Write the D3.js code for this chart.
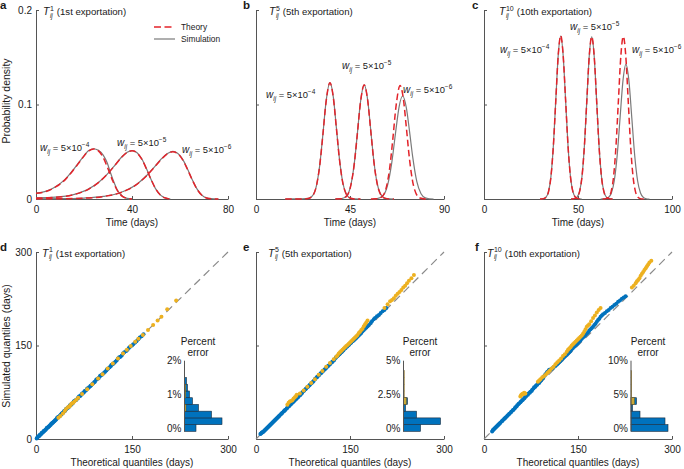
<!DOCTYPE html>
<html><head><meta charset="utf-8">
<script src="https://cdn.jsdelivr.net/npm/d3@7"></script>
<style>
body{margin:0;background:#fff}
svg text{font-family:"Liberation Sans",Arial,Helvetica,sans-serif;fill:#1a1a1a}
</style>
</head><body>
<svg id="c" width="684" height="469"></svg>
<script>
// ---------------- DATA ----------------
const densTicks = [0, 0.1, 0.2];
const densTickLabels = ["0", "0.1", "0.2"];
const timeTicksA = [0, 40, 80];
const timeTicksB = [0, 45, 90];
const timeTicksC = [0, 50, 100];
const quantTicks = [0, 150, 300];
const weightLabels = ["\u22124", "\u22125", "\u22126"];
const exportNums = ["1", "5", "10"];
const exportNames = ["(1st exportation)", "(5th exportation)", "(10th exportation)"];

// panel a: [time, density]
const theoryA1 = [[0,0.006],[4,0.0078],[8,0.0125],[12,0.020],[16,0.032],[19,0.042],[22,0.051],[24,0.053],[26,0.051],[28,0.044],[30,0.032],[32,0.019],[34,0.0085],[36,0.0028],[38,0.0006],[40,0]];
const simA1    = [[0,0.0062],[4,0.008],[8,0.0128],[12,0.0205],[16,0.0325],[19,0.0425],[22,0.0512],[24,0.0532],[26,0.0515],[28,0.0465],[29.7,0.038],[31,0.028],[32,0.021],[34,0.009],[36,0.003],[38,0.0007],[40,0]];
const theoryA2 = [[0,0.001],[8,0.0018],[16,0.0048],[22,0.0105],[26,0.0173],[30,0.027],[33,0.036],[36,0.045],[38,0.0493],[40,0.051],[42,0.049],[44,0.0424],[46,0.032],[48,0.0203],[50,0.0101],[52,0.0037],[54,0.001],[56,0]];
const simA2    = [[0,0.0012],[8,0.0019],[16,0.0049],[22,0.0107],[26,0.0175],[30,0.0272],[33,0.0362],[36,0.0452],[38,0.0495],[40,0.0512],[42,0.0492],[44,0.0428],[46,0.0322],[48,0.0205],[50,0.0102],[52,0.0038],[54,0.001],[56,0]];
const theoryA3 = [[0,0.0002],[10,0.0003],[20,0.0009],[28,0.0026],[34,0.0057],[38,0.0096],[42,0.0155],[46,0.0244],[49,0.0327],[52,0.0415],[55,0.0483],[57,0.050],[59,0.048],[61,0.0419],[63,0.032],[65,0.0208],[67,0.0108],[69,0.0042],[71,0.001],[73,0.0002],[76,0]];
const simA3    = [[0,0.0002],[10,0.0003],[20,0.001],[28,0.0027],[34,0.0058],[38,0.0098],[42,0.0157],[46,0.0246],[49,0.033],[52,0.0418],[55,0.0485],[57,0.0503],[59,0.0485],[61,0.0425],[63,0.0326],[65,0.021],[67,0.011],[69,0.0044],[71,0.0012],[73,0.0003],[76,0]];

// panel b
const theoryB1 = [[14,0],[22,0.0001],[25,0.0005],[27,0.0031],[29,0.0146],[30.5,0.0353],[32,0.0675],[33.5,0.102],[35.4,0.123],[37,0.1077],[38.5,0.0746],[40,0.041],[41.5,0.0177],[43,0.0061],[45,0.001],[47,0.0001],[50,0]];
const simB1    = [[14,0],[22,0.0001],[25,0.0006],[27,0.0033],[29,0.0148],[30.5,0.0356],[32,0.0678],[33.5,0.1022],[35.4,0.1232],[37,0.108],[38.5,0.075],[40,0.0414],[41.5,0.018],[43,0.0063],[45,0.0011],[47,0.0001],[50,0]];
const theoryB2 = [[38,0.0001],[41,0.0003],[43.5,0.0033],[45.5,0.0154],[47,0.0363],[48.5,0.0684],[50,0.102],[51.8,0.1206],[53.5,0.1038],[55,0.0708],[56.5,0.0382],[58,0.0163],[59.5,0.0055],[61.5,0.0009],[64,0.0001],[66,0]];
const simB2    = [[38,0.0001],[41,0.0004],[43.5,0.0035],[45.5,0.0157],[47,0.0366],[48.5,0.0687],[50,0.1022],[51.8,0.1208],[53.5,0.1041],[55,0.0712],[56.5,0.0386],[58,0.0166],[59.5,0.0057],[61.5,0.001],[64,0.0001],[66,0]];
const theoryB3 = [[55,0.0001],[58,0.0002],[60.5,0.0028],[62.5,0.0133],[64,0.0327],[65.5,0.0634],[67,0.0975],[69,0.120],[70.5,0.1068],[72,0.0751],[73.5,0.0419],[75,0.0185],[76.5,0.0064],[78.5,0.0011],[81,0.0001],[83,0]];
const simB3    = [[56,0],[58,0.0003],[61,0.0041],[63,0.0147],[65,0.0385],[67,0.0734],[68.5,0.0976],[70.2,0.109],[72,0.0962],[73.5,0.0716],[75,0.0448],[77,0.0183],[79,0.0055],[81,0.0012],[83,0.0002],[85,0]];

// panel c
const theoryC1 = [[29.8,0],[31.7,0.0004],[33,0.0019],[34.3,0.0076],[35.6,0.0234],[36.9,0.0561],[38.2,0.1048],[39.5,0.1525],[40.8,0.1728],[42.1,0.1525],[43.4,0.1048],[44.7,0.0561],[46,0.0234],[47.3,0.0076],[48.6,0.0019],[49.9,0.0004],[52,0]];
const simC1    = [[29.8,0],[31.7,0.0005],[33,0.002],[34.3,0.0078],[35.6,0.0237],[36.9,0.0565],[38.2,0.1052],[39.5,0.1528],[40.8,0.1725],[42.1,0.1522],[43.4,0.1046],[44.7,0.056],[46,0.0236],[47.3,0.0078],[48.6,0.002],[49.9,0.0005],[52,0]];
const theoryC2 = [[46.3,0],[48.2,0.0004],[49.5,0.0019],[50.8,0.0075],[52.1,0.0232],[53.4,0.0558],[54.7,0.1042],[56,0.1516],[57.3,0.1718],[58.6,0.1516],[59.9,0.1042],[61.2,0.0558],[62.5,0.0232],[63.8,0.0075],[65.1,0.0019],[66.4,0.0004],[68.5,0]];
const simC2    = [[46.3,0],[48.2,0.0005],[49.5,0.002],[50.8,0.0077],[52.1,0.0235],[53.4,0.0562],[54.7,0.1046],[56,0.1519],[57.3,0.1716],[58.6,0.1514],[59.9,0.1045],[61.2,0.0562],[62.5,0.0236],[63.8,0.0078],[65.1,0.002],[66.4,0.0005],[68.5,0]];
const theoryC3 = [[63.1,0],[65,0.0004],[66.3,0.0019],[67.6,0.0076],[68.9,0.0233],[70.2,0.0558],[71.5,0.1043],[72.8,0.1518],[74.1,0.172],[75.4,0.1518],[76.7,0.1043],[78,0.0558],[79.3,0.0233],[80.6,0.0076],[81.9,0.0019],[83.2,0.0004],[85.3,0]];
const simC3    = [[62,0],[64.65,0.0003],[66.2,0.0016],[67.75,0.0063],[69.3,0.0193],[70.85,0.0463],[72.4,0.0864],[73.95,0.1258],[75.5,0.1425],[77.05,0.1258],[78.6,0.0864],[80.15,0.0463],[81.7,0.0193],[83.25,0.0063],[84.8,0.0016],[86.35,0.0003],[88,0]];

// QQ data: [theoretical, simulated]
const qqBlueD = [[1,1],[2,2],[3,4],[4,4],[5,5],[6,7],[7,7],[8,8],[9,10],[10,10],[11,11],[12,13],[13,13],[14,14],[15,15],[16,16],[17,18],[18,18],[19,19],[20,20],[21,21],[22,22],[23,23],[24,25],[25,25],[26,26],[27,27],[28,28],[29,29],[30,30],[31,31],[32,32],[33,34],[34,35],[35,35],[36,36],[37,37],[38,38],[39,39],[40,41],[41,41],[42,42],[43,43],[44,45],[45,45],[46,46],[47,48],[48,49],[50,50],[51,51],[52,52],[53,54],[55,55],[56,56],[58,58],[59,60],[60,61],[62,62],[63,63],[65,65],[66,66],[67,68],[69,69],[70,70],[72,73],[73,73],[75,75],[76,77],[78,78],[80,81],[81,81],[83,83],[85,85],[86,86],[88,88],[89,89],[91,91],[92,92],[94,95],[95,96],[97,97],[98,98],[100,101],[101,102],[103,103],[104,104],[106,106],[108,108],[110,110],[111,112],[113,113],[115,115],[117,117],[118,119],[120,120],[122,122],[124,124],[126,126],[128,129],[130,131],[132,132],[134,134],[136,137],[138,139],[141,141],[143,143],[145,146],[147,148],[150,150],[152,152],[155,155],[157,157],[160,160],[162,163],[165,165],[168,168]];
const qqYellowD = [[35,34],[38,37],[42,41],[45,45],[47,48],[50,51],[52,52],[53,53],[55,56],[56,57],[58,58],[60,60],[63,63],[66,66],[72,72],[80,80],[88,88],[97,97],[104,104],[112,113],[120,121],[128,129],[136,137],[142,143],[148,149],[155,156],[160,161],[167,167],[175,175],[183,183],[190,190],[196,196],[205,208],[219,222]];
const qqBlueE = [[7,8],[8,9],[9,10],[10,11],[11,11],[12,12],[13,13],[14,14],[15,15],[16,16],[17,17],[18,18],[19,19],[20,20],[21,21],[22,22],[23,23],[24,24],[25,25],[26,26],[27,27],[28,28],[29,29],[30,30],[31,31],[32,32],[33,33],[34,34],[35,35],[36,36],[37,37],[38,38],[40,40],[41,41],[42,42],[44,44],[45,45],[46,46],[47,47],[49,49],[50,50],[52,52],[53,53],[55,55],[56,56],[58,58],[59,59],[61,61],[62,62],[64,64],[65,65],[67,67],[68,68],[70,70],[71,71],[73,73],[74,75],[76,77],[77,78],[79,80],[80,81],[82,83],[83,84],[85,86],[86,87],[88,89],[89,90],[91,92],[92,93],[94,96],[95,97],[97,99],[98,100],[100,102],[101,103],[103,105],[104,106],[106,108],[107,109],[109,111],[110,112],[112,114],[113,115],[115,117],[116,118],[118,120],[119,121],[121,123],[122,124],[124,126],[125,127],[127,130],[128,131],[130,133],[131,134],[133,136],[134,137],[136,139],[137,140],[139,142],[140,143],[142,145],[143,146],[145,148],[146,149],[148,151],[149,152],[151,154],[152,155],[154,157],[156,158],[158,160],[160,162],[162,164],[164,166],[166,168],[168,170],[170,173],[172,175],[174,177],[176,179],[178,181],[180,183],[183,186],[185,189],[188,192],[190,194],[193,197],[196,199],[199,202],[202,205],[205,207],[208,210]];
const qqYellowE = [[50,55],[52,58],[54,60],[56,61],[58,62],[60,65],[62,67],[64,69],[65,71],[70,73],[76,78],[82,84],[88,90],[94,96],[100,103],[106,109],[112,116],[118,122],[124,128],[128,132],[130,134],[132,137],[134,139],[136,141],[138,143],[140,145],[142,147],[144,149],[146,151],[148,153],[150,155],[152,157],[154,159],[156,161],[158,163],[160,165],[162,167],[164,170],[166,172],[168,175],[170,177],[172,181],[174,184],[176,187],[178,190],[205,210],[210,216],[214,221],[217,223],[220,226],[223,230],[226,233],[229,236],[232,239],[235,243],[238,246],[241,250],[244,254],[248,258],[252,263]];
const qqBlueF = [[13,12],[14,14],[15,15],[16,16],[17,17],[18,18],[19,19],[20,20],[21,21],[22,22],[23,23],[24,24],[25,25],[26,26],[28,28],[29,29],[30,30],[32,32],[33,33],[34,34],[35,35],[37,37],[38,38],[40,40],[41,41],[43,43],[44,44],[46,46],[47,47],[49,49],[50,51],[52,52],[53,54],[55,56],[56,57],[58,59],[59,60],[61,62],[62,63],[64,65],[65,66],[67,68],[68,70],[70,71],[71,73],[73,74],[74,76],[76,77],[77,79],[79,81],[80,83],[82,84],[83,86],[85,87],[86,89],[88,90],[89,92],[91,94],[92,96],[94,98],[95,100],[97,102],[98,104],[100,106],[101,108],[103,109],[104,111],[106,111],[107,112],[109,113],[110,114],[112,116],[114,117],[116,119],[118,121],[120,123],[122,125],[124,127],[126,129],[128,131],[130,133],[132,135],[134,137],[136,139],[138,141],[140,144],[142,146],[144,148],[146,150],[148,152],[150,154],[152,156],[154,158],[156,161],[158,163],[160,165],[162,167],[164,169],[166,171],[168,174],[170,176],[172,178],[174,180],[176,183],[178,185],[180,188],[182,191],[184,193],[186,196],[188,198],[190,200],[193,202],[196,205],[199,207],[202,210],[205,212],[208,215],[211,217],[214,220],[217,222],[220,225],[223,227],[226,229]];
const qqYellowF = [[58,68],[59,70],[60,71],[61,72],[62,72],[63,73],[64,74],[65,73],[66,73],[86,92],[88,94],[90,96],[93,99],[96,101],[99,104],[102,107],[105,110],[108,113],[111,116],[114,120],[117,123],[120,126],[123,129],[126,133],[129,136],[132,140],[134,143],[136,145],[138,147],[140,150],[142,152],[144,154],[146,156],[148,158],[150,160],[152,162],[154,164],[156,166],[158,169],[160,172],[162,176],[164,180],[166,182],[168,184],[171,189],[174,194],[177,198],[180,203],[183,207],[186,210],[236,243],[239,246],[242,250],[244,253],[246,255],[248,258],[250,262],[252,265],[254,268],[256,271],[258,274],[260,277],[262,280],[264,283],[267,286]];

// percent error histograms (bin centres in %, bar lengths)
const pctBinsD = [0, 0.2, 0.4, 0.6, 0.8, 1.0, 1.2, 1.4];
const pctBlueD = [11.5, 37.5, 27, 14, 8, 5, 3, 2];
const pctYellowD = [0, 0, 0, 1.5, 0, 1.2, 1.2, 0];
const pctTicksD = [0, 1, 2];
const pctLabelsD = ["0%", "1%", "2%"];
const pctBinsE = [0, 0.5, 1.0, 1.5, 2.0, 2.5, 3.0, 3.5, 4.0, 4.5];
const pctBlueE = [17, 37, 13, 2, 4, 0, 0, 0, 0, 0];
const pctYellowE = [0, 0, 0, 0, 3, 0.8, 0.8, 0.8, 0.8, 0];
const pctTicksE = [0, 2.5, 5];
const pctLabelsE = ["0%", "2.5%", "5%"];
const pctBinsF = [0, 1, 2, 3, 4, 5, 6, 7, 8, 9];
const pctBlueF = [37, 34, 9, 1.5, 5.5, 0, 0, 0, 0, 0];
const pctYellowF = [0, 0, 0, 0, 3.5, 0.8, 0.8, 0.8, 0.8, 0];
const pctTicksF = [0, 5, 10];
const pctLabelsF = ["0%", "5%", "10%"];

// ---------------- DRAWING ----------------
const svg = d3.select("#c");
const RED = "#e3232a", GRAY = "#7a7a7a", BLUE = "#0072BD", YEL = "#EDB120", AX = "#555";

function styleAxis(sel){
  sel.selectAll(".domain").attr("stroke", AX).attr("stroke-width", 1);
  sel.selectAll(".tick line").attr("stroke", AX);
  sel.selectAll(".tick text").attr("font-size", 10).attr("fill", "#1a1a1a")
     .attr("font-family", '"Liberation Sans",Arial,sans-serif');
}

function axes(xs, ys, xt, yt, ylabels){
  const gx = svg.append("g").attr("transform", `translate(0,${ys.range()[0]})`)
    .call(d3.axisBottom(xs).tickValues(xt).tickSize(-3).tickSizeOuter(0).tickPadding(7).tickFormat(d3.format("d")));
  styleAxis(gx);
  const gy = svg.append("g").attr("transform", `translate(${xs.range()[0]},0)`)
    .call(d3.axisLeft(ys).tickValues(yt).tickSize(-3).tickSizeOuter(0).tickPadding(4)
      .tickFormat((d,i) => ylabels ? ylabels[i] : ""));
  styleAxis(gy);
}

function richLabel(x, y, parts, size){
  const t = svg.append("text").attr("x", x).attr("y", y).attr("font-size", size);
  let prevW = 0;
  parts.forEach(p => {
    const s = t.append("tspan").text(p.t).attr("y", y + (p.dy || 0))
      .attr("font-size", p.fs || size);
    if (p.it) s.attr("font-style", "italic");
    if (p.back) s.attr("dx", -prevW);
    else if (p.dx) s.attr("dx", p.dx);
    prevW = s.node().getComputedTextLength();
  });
  return t;
}

function wLabel(x, y, exp){
  richLabel(x, y, [{t:"w", it:true, fs:10}, {t:"ij", it:true, fs:6.3, dy:2.5}, {t:" = 5\u00d710"}, {t:exp, fs:6.5, dy:-4}], 9.4);
}
function titleLabel(x, y, n, name){
  richLabel(x, y, [{t:"T", it:true, fs:10.5}, {t:"ij", it:true, fs:6.5, dy:2.5, dx:0.5}, {t:n, fs:7, dy:-4.5, back:true}, {t:"(" + name.slice(1), dx:3}], 9.6);
}

const colsX = [[36, 228], [256, 444], [484, 672]];
const topY = [199, 10], botY = [439, 252];
const timeDomains = [[0,80],[0,90],[0,100]];
const timeTicks = [timeTicksA, timeTicksB, timeTicksC];
const theories = [[theoryA1,theoryA2,theoryA3],[theoryB1,theoryB2,theoryB3],[theoryC1,theoryC2,theoryC3]];
const sims = [[simA1,simA2,simA3],[simB1,simB2,simB3],[simC1,simC2,simC3]];
const wPos = [[[40,151],[117,146],[182,153]],[[266,98],[342,69],[403,93]],[[500,53],[570,30],[632,53]]];
const letters = ["a","b","c","d","e","f"];
const letterX = [0, 243, 472, 0, 243, 475];
const titleXTop = [43, 269, 499], titleXBot = [42, 268, 487];

for (let p = 0; p < 3; p++){
  const xs = d3.scaleLinear().domain(timeDomains[p]).range(colsX[p]);
  const ys = d3.scaleLinear().domain([0, 0.2]).range(topY);
  axes(xs, ys, timeTicks[p], densTicks, p === 0 ? densTickLabels : null);
  const line = d3.line().x(d => xs(d[0])).y(d => ys(d[1])).curve(d3.curveMonotoneX);
  sims[p].forEach(s => svg.append("path").attr("d", line(s)).attr("fill","none")
      .attr("stroke", GRAY).attr("stroke-width", 1.2));
  theories[p].forEach(s => svg.append("path").attr("d", line(s)).attr("fill","none")
      .attr("stroke", RED).attr("stroke-width", 1.5).attr("stroke-dasharray", "6.5,3.5"));
  wPos[p].forEach((pos, i) => wLabel(pos[0], pos[1], weightLabels[i]));
  titleLabel(titleXTop[p], 15, exportNums[p], exportNames[p]);
  svg.append("text").attr("x", (colsX[p][0]+colsX[p][1])/2).attr("y", 226)
    .attr("text-anchor","middle").attr("font-size",10).text("Time (days)");
}

// legend panel a
svg.append("line").attr("x1",154).attr("x2",175).attr("y1",27).attr("y2",27)
  .attr("stroke",RED).attr("stroke-width",1.5).attr("stroke-dasharray","7,3.5");
svg.append("line").attr("x1",154).attr("x2",175).attr("y1",39).attr("y2",39)
  .attr("stroke",GRAY).attr("stroke-width",1.2);
svg.append("text").attr("x",181).attr("y",30).attr("font-size",8.4).text("Theory");
svg.append("text").attr("x",181).attr("y",42).attr("font-size",8.4).text("Simulation");

// bottom row
const qqBlue = [qqBlueD, qqBlueE, qqBlueF], qqYellow = [qqYellowD, qqYellowE, qqYellowF];
const pctBins = [pctBinsD, pctBinsE, pctBinsF], pctBlue = [pctBlueD, pctBlueE, pctBlueF];
const pctYellow = [pctYellowD, pctYellowE, pctYellowF];
const pctTicks = [pctTicksD, pctTicksE, pctTicksF], pctLabels = [pctLabelsD, pctLabelsE, pctLabelsF];
const insetAxisX = [184.5, 403.5, 631];

for (let p = 0; p < 3; p++){
  const xs = d3.scaleLinear().domain([0, 300]).range(colsX[p]);
  const ys = d3.scaleLinear().domain([0, 300]).range(botY);
  axes(xs, ys, quantTicks, quantTicks, p === 0 ? quantTicks.map(String) : null);
  svg.append("line").attr("x1", xs(0)).attr("y1", ys(0)).attr("x2", xs(300)).attr("y2", ys(300))
    .attr("stroke", "#8a8a8a").attr("stroke-width", 1.2).attr("stroke-dasharray", "8,5");
  svg.append("g").selectAll("circle").data(qqBlue[p]).join("circle")
    .attr("cx", d => xs(d[0])).attr("cy", d => ys(d[1])).attr("r", 2).attr("fill", BLUE);
  svg.append("g").selectAll("circle").data(qqYellow[p]).join("circle")
    .attr("cx", d => xs(d[0])).attr("cy", d => ys(d[1])).attr("r", 2).attr("fill", YEL);
  titleLabel(titleXBot[p], 256.5, exportNums[p], exportNames[p]);
  svg.append("text").attr("x", (colsX[p][0]+colsX[p][1])/2).attr("y", 466)
    .attr("text-anchor","middle").attr("font-size",10).text("Theoretical quantiles (days)");

  // inset histogram
  const ax = insetAxisX[p];
  const tk = pctTicks[p];
  const bins = pctBins[p];
  const bw = bins[1] - bins[0];
  const iy = d3.scaleLinear().domain([0, tk[2]]).range([428, 360.7]);
  const ix = d3.scaleLinear().domain([0, 40]).range([ax, ax + 40]);
  const g = svg.append("g");
  g.selectAll("rect.b").data(bins).join("rect").attr("class","b")
    .attr("x", ax).attr("y", d => iy(d + bw/2)).attr("height", d => iy(d - bw/2) - iy(d + bw/2))
    .attr("width", (d,i) => ix(pctBlue[p][i]) - ax)
    .attr("fill", BLUE).attr("stroke", "#1a2a3a").attr("stroke-width", 0.6)
    .attr("display", (d,i) => pctBlue[p][i] > 0 ? null : "none");
  g.selectAll("rect.y").data(bins).join("rect").attr("class","y")
    .attr("x", ax).attr("y", d => iy(d + bw/2)).attr("height", d => iy(d - bw/2) - iy(d + bw/2))
    .attr("width", (d,i) => ix(pctYellow[p][i]) - ax)
    .attr("fill", YEL).attr("fill-opacity", 0.85).attr("stroke", "#5a4a10").attr("stroke-width", 0.4)
    .attr("display", (d,i) => pctYellow[p][i] > 0 ? null : "none");
  g.append("line").attr("x1", ax).attr("x2", ax).attr("y1", iy(tk[2])).attr("y2", iy(-bw/2))
    .attr("stroke", AX).attr("stroke-width", 1);
  g.selectAll("text.t").data(tk).join("text").attr("class","t")
    .attr("x", ax - 3).attr("y", d => iy(d) + 3.5).attr("text-anchor","end").attr("font-size",10)
    .text((d,i) => pctLabels[p][i]);
  const cx = [198, 420, 648][p];
  g.append("text").attr("x", cx).attr("y", 344.5).attr("text-anchor","middle").attr("font-size",10).text("Percent");
  g.append("text").attr("x", cx).attr("y", 356).attr("text-anchor","middle").attr("font-size",10).text("error");
}

// axis titles
svg.append("text").attr("transform","translate(9.5,101) rotate(-90)").attr("text-anchor","middle")
  .attr("font-size",10.5).text("Probability density");
svg.append("text").attr("transform","translate(9.5,346) rotate(-90)").attr("text-anchor","middle")
  .attr("font-size",10.5).text("Simulated quantiles (days)");

// panel letters
letters.forEach((l, i) => {
  svg.append("text").attr("x", letterX[i]).attr("y", i < 3 ? 9 : 250.5)
    .attr("font-size", 11.5).attr("font-weight", "bold").text(l);
});
</script>
</body></html>
